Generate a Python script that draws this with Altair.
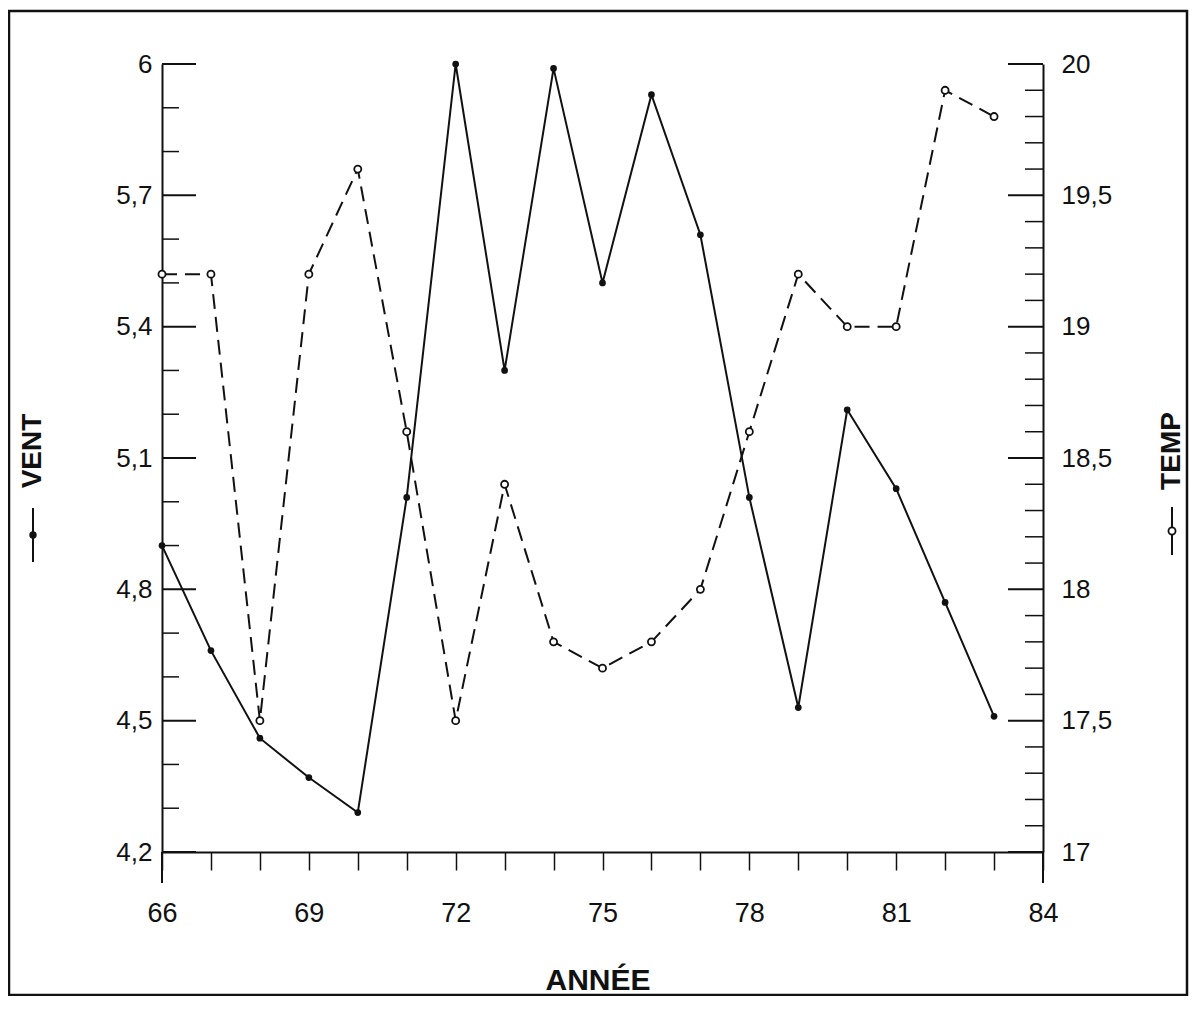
import altair as alt
import pandas as pd

# ---- data ----
years = [66, 67, 68, 69, 70, 71, 72, 73, 74, 75, 76, 77, 78, 79, 80, 81, 82, 83]
vent = [4.90, 4.66, 4.46, 4.37, 4.29, 5.01, 6.00, 5.30, 5.99, 5.50, 5.93, 5.61,
        5.01, 4.53, 5.21, 5.03, 4.77, 4.51]
temp = [19.2, 19.2, 17.5, 19.2, 19.6, 18.6, 17.5, 18.4, 17.8, 17.7, 17.8, 18.0,
        18.6, 19.2, 19.0, 19.0, 19.9, 19.8]

x_ticks = [66, 67, 68, 69, 70, 71, 72, 73, 74, 75, 76, 77, 78, 79, 80, 81, 82, 83, 84]
x_ends = [66, 84]
left_major = [4.2, 4.5, 4.8, 5.1, 5.4, 5.7, 6.0]
left_minor = [4.3, 4.4, 4.6, 4.7, 4.9, 5.0, 5.2, 5.3, 5.5, 5.6, 5.8, 5.9]
right_major = [17.0, 17.5, 18.0, 18.5, 19.0, 19.5, 20.0]
right_minor = [17.1, 17.2, 17.3, 17.4, 17.6, 17.7, 17.8, 17.9,
               18.1, 18.2, 18.3, 18.4, 18.6, 18.7, 18.8, 18.9,
               19.1, 19.2, 19.3, 19.4, 19.6, 19.7, 19.8, 19.9]

df = pd.DataFrame({"annee": years, "vent": vent, "temp": temp})

W, H = 881, 788
FONT = "Liberation Sans"
INK = "#111111"

xs = alt.Scale(domain=[66, 84], nice=False, zero=False)
ys_l = alt.Scale(domain=[4.2, 6.0], nice=False, zero=False)
ys_r = alt.Scale(domain=[17, 20], nice=False, zero=False)

x_axis = alt.Axis(values=x_ticks, title=None, grid=False, tickSize=18, tickWidth=1.5,
                  tickColor=INK, domainColor=INK, domainWidth=2,
                  labelExpr="datum.value % 3 == 0 ? datum.value : ''",
                  labelFont=FONT, labelFontSize=27, labelColor=INK, labelPadding=30,
                  labelFlush=False, labelOverlap=False, labelBound=False)

left_axis = alt.Axis(orient="left", values=left_major, title=None, grid=False, ticks=False,
                     domainColor=INK, domainWidth=2,
                     labelExpr="datum.value >= 5.99 ? '6' : replace(format(datum.value, '.1f'), '.', ',')",
                     labelFont=FONT, labelFontSize=26, labelColor=INK, labelPadding=10,
                     labelFlush=False, labelOverlap=False, labelBound=False)

right_axis = alt.Axis(orient="right", values=right_major, title=None, grid=False, ticks=False,
                      domainColor=INK, domainWidth=2,
                      labelExpr="abs(datum.value - round(datum.value)) < 0.01 ? format(datum.value, 'd') : replace(format(datum.value, '.1f'), '.', ',')",
                      labelFont=FONT, labelFontSize=26, labelColor=INK, labelPadding=18,
                      labelFlush=False, labelOverlap=False, labelBound=False)

X = alt.X("annee:Q", scale=xs, axis=x_axis)

# ---- VENT (left axis) ----
vent_line = alt.Chart(df).mark_line(color=INK, strokeWidth=2).encode(
    x=X, y=alt.Y("vent:Q", scale=ys_l, axis=left_axis))
vent_pts = alt.Chart(df).mark_point(filled=True, color=INK, size=45, opacity=1).encode(
    x=X, y=alt.Y("vent:Q", scale=ys_l, axis=left_axis))
lmaj = alt.Chart(pd.DataFrame({"vent": left_major})).mark_rule(color=INK, strokeWidth=2).encode(
    y=alt.Y("vent:Q", scale=ys_l, axis=left_axis), x=alt.value(0), x2=alt.value(34))
lmin = alt.Chart(pd.DataFrame({"vent": left_minor})).mark_rule(color=INK, strokeWidth=1.5).encode(
    y=alt.Y("vent:Q", scale=ys_l, axis=left_axis), x=alt.value(0), x2=alt.value(17))
ends = alt.Chart(pd.DataFrame({"annee": x_ends})).mark_rule(color=INK, strokeWidth=2).encode(
    x=X, y=alt.value(H), y2=alt.value(H + 31))

left = alt.layer(vent_line, vent_pts, lmaj, lmin, ends)

# ---- TEMP (right axis) ----
temp_line = alt.Chart(df).mark_line(color=INK, strokeWidth=2, strokeDash=[15, 8]).encode(
    x=X, y=alt.Y("temp:Q", scale=ys_r, axis=right_axis))
temp_pts = alt.Chart(df).mark_point(filled=True, fill="white", stroke=INK, strokeWidth=1.8,
                                    size=50, opacity=1).encode(
    x=X, y=alt.Y("temp:Q", scale=ys_r, axis=right_axis))
rmaj = alt.Chart(pd.DataFrame({"temp": right_major})).mark_rule(color=INK, strokeWidth=2).encode(
    y=alt.Y("temp:Q", scale=ys_r, axis=right_axis), x=alt.value(W - 35), x2=alt.value(W))
rmin = alt.Chart(pd.DataFrame({"temp": right_minor})).mark_rule(color=INK, strokeWidth=1.5).encode(
    y=alt.Y("temp:Q", scale=ys_r, axis=right_axis), x=alt.value(W - 18), x2=alt.value(W))

right = alt.layer(temp_line, temp_pts, rmaj, rmin)

# ---- decorations: titles, legend keys, frame ----
one = alt.Data(values=[{"a": 1}])

frame = alt.Chart(one).mark_rect(fillOpacity=0, stroke=INK, strokeWidth=2.5).encode(
    x=alt.value(-153), x2=alt.value(1025), y=alt.value(-53), y2=alt.value(931))

annee_t = alt.Chart(one).mark_text(text="ANNÉE", font=FONT, fontSize=30, fontWeight="bold",
                                   color=INK, align="center", baseline="alphabetic").encode(
    x=alt.value(436), y=alt.value(926))

vent_t = alt.Chart(one).mark_text(text="VENT", font=FONT, fontSize=28, fontWeight="bold",
                                  color=INK, angle=270, align="center", baseline="middle").encode(
    x=alt.value(-129), y=alt.value(387))
vent_key = alt.Chart(one).mark_rule(color=INK, strokeWidth=2).encode(
    x=alt.value(-129), y=alt.value(444), y2=alt.value(498))
vent_dot = alt.Chart(one).mark_point(filled=True, color=INK, size=55, opacity=1).encode(
    x=alt.value(-129), y=alt.value(471))

temp_t = alt.Chart(one).mark_text(text="TEMP", font=FONT, fontSize=28, fontWeight="bold",
                                  color=INK, angle=270, align="center", baseline="middle").encode(
    x=alt.value(1010), y=alt.value(387))
temp_key = alt.Chart(one).mark_rule(color=INK, strokeWidth=2).encode(
    x=alt.value(1010), y=alt.value(443), y2=alt.value(491))
temp_dot = alt.Chart(one).mark_point(filled=True, fill="white", stroke=INK, strokeWidth=1.8,
                                     size=50, opacity=1).encode(
    x=alt.value(1010), y=alt.value(467))

deco = alt.layer(frame, annee_t, vent_t, vent_key, vent_dot, temp_t, temp_key, temp_dot)

chart = alt.layer(left, right, deco).resolve_scale(y="independent").properties(
    width=W, height=H,
    autosize=alt.AutoSizeParams(type="none"),
    padding={"left": 154, "top": 56, "right": 146, "bottom": 144},
    background="white",
).configure_view(strokeWidth=0)

chart.save("out.html", embed_options={"renderer": "svg", "actions": False})
